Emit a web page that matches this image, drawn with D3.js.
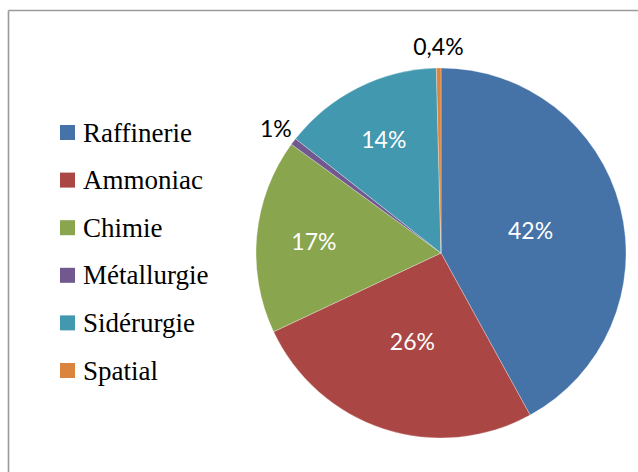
<!DOCTYPE html>
<html>
<head>
<meta charset="utf-8">
<script src="https://cdn.jsdelivr.net/npm/d3@7"></script>
<style>
  html, body { margin: 0; padding: 0; background: #fff; }
  svg { display: block; }
</style>
</head>
<body>
<svg id="chart" width="638" height="472"></svg>
<script>
// Répartition par secteur (en %)
const categories = ["Raffinerie", "Ammoniac", "Chimie", "Métallurgie", "Sidérurgie", "Spatial"];
const values = [42, 26, 17, 0.6, 14, 0.4];
const colors = ["#4572A7", "#AA4643", "#89A54E", "#71588F", "#4198AF", "#DB843D"];

const svg = d3.select("#chart");
const W = 638, H = 472;

// cadre (bords haut et gauche)
svg.append("line").attr("x1", 8.5).attr("x2", W).attr("y1", 10.5).attr("y2", 10.5)
  .attr("stroke", "#9a9a9a").attr("stroke-width", 1.6);
svg.append("line").attr("x1", 8.5).attr("x2", 8.5).attr("y1", 10.5).attr("y2", H)
  .attr("stroke", "#9a9a9a").attr("stroke-width", 1.6);

const cx = 441, cy = 253, r = 185;

const color = d3.scaleOrdinal().domain(categories).range(colors);
const data = categories.map((c, i) => ({ name: c, value: values[i] }));

const pie = d3.pie().value(d => d.value).sort(null);
const arcs = pie(data);
const arc = d3.arc().innerRadius(0).outerRadius(r);

// rayon des étiquettes : moitié du rayon pour les grandes parts,
// plus loin du centre pour les parts moyennes, hors du disque pour les petites
const small = d => d.data.value < 2;
const labelRadius = d => small(d) ? r + 22 : (d.data.value < 20 ? r * 0.69 : r * 0.5);
const labelPos = d => {
  const a = (d.startAngle + d.endAngle) / 2, lr = labelRadius(d);
  return [Math.sin(a) * lr, -Math.cos(a) * lr];
};

const fmt = v => (v < 0.5 ? d3.format(".1f")(v).replace(".", ",") : d3.format(".0f")(v)) + "%";

const g = svg.append("g").attr("transform", `translate(${cx},${cy})`);

g.selectAll("path.slice").data(arcs).join("path")
  .attr("class", "slice")
  .attr("d", arc)
  .attr("fill", d => color(d.data.name))
  .attr("stroke", "#ffffff")
  .attr("stroke-opacity", 0.5)
  .attr("stroke-width", 0.6);

g.selectAll("text.lbl").data(arcs).join("text")
  .attr("class", "lbl")
  .attr("transform", d => `translate(${labelPos(d)})`)
  .attr("text-anchor", "middle")
  .attr("dominant-baseline", "central")
  .attr("font-family", "Lato, 'Open Sans', sans-serif")
  .attr("font-size", 23)
  .attr("fill", d => small(d) ? "#000" : "#fff")
  .text(d => fmt(d.data.value));

// légende
const legendY = d3.scalePoint().domain(categories).range([132.5, 370.5]);
const leg = svg.append("g").selectAll("g").data(categories).join("g")
  .attr("transform", d => `translate(60,${legendY(d)})`);
leg.append("rect").attr("x", 0).attr("y", -7.5).attr("width", 15).attr("height", 15)
  .attr("fill", d => color(d));
leg.append("text").attr("x", 23).attr("y", 9)
  .attr("font-family", "Liberation Serif")
  .style("font-family", "'Liberation Serif'")
  .attr("font-size", 27)
  .attr("fill", "#000")
  .text(d => d);
</script>
</body>
</html>
